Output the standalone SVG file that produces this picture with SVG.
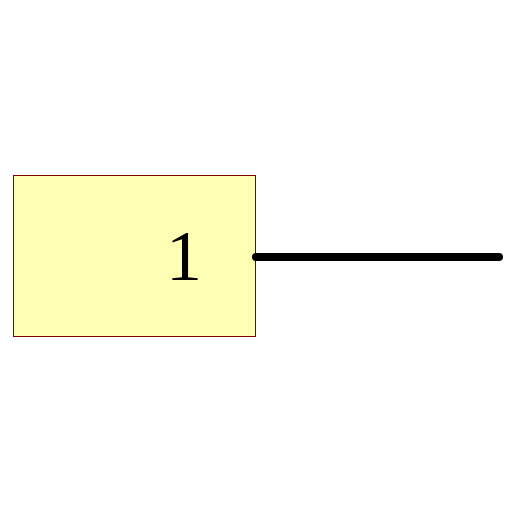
<svg xmlns="http://www.w3.org/2000/svg" width="512" height="512" viewBox="0 0 512 512">
<style>
.node rect{fill:#ffffb4;stroke:#800000;stroke-width:1}
.node text{font-family:"Liberation Serif","Times New Roman",serif;font-size:72px;fill:#000}
.edge{stroke:#000;stroke-width:8;stroke-linecap:round;fill:none}
</style>
<rect width="512" height="512" fill="#fff"/>
<g id="node1" class="node">
<rect x="13.5" y="175.5" width="242" height="161"/>
<text x="184" y="280" text-anchor="middle">1</text>
</g>
<g id="connectors">
<line class="edge" x1="256" y1="257" x2="499" y2="257"/>
</g>
</svg>
